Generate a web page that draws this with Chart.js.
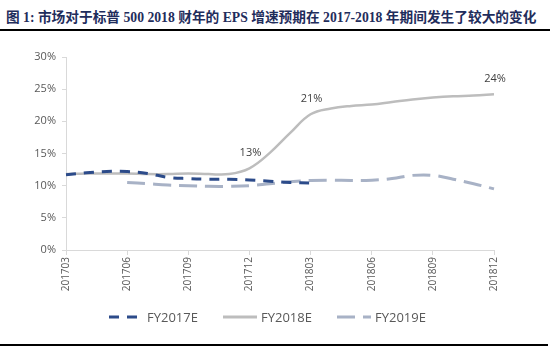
<!DOCTYPE html>
<html>
<head>
<meta charset="utf-8">
<script src="https://cdn.jsdelivr.net/npm/chart.js@4.4.1/dist/chart.umd.min.js"></script>
<style>
  html, body { margin: 0; padding: 0; background: #fff; }
  #wrap { position: relative; width: 550px; height: 350px; overflow: hidden; }
  #title {
    position: absolute; left: 6px; top: 6px; white-space: nowrap;
    font-family: "Liberation Serif", "Noto Sans CJK SC", serif;
    font-weight: bold; font-size: 13.7px; color: #1f2d5c;
  }
  #topRule { position: absolute; left: 0; top: 29px; width: 550px; height: 2px; background: #000; }
  #bottomRule { position: absolute; left: 0; top: 344px; width: 548px; height: 2px; background: #000; }
  #chartBox { position: absolute; left: 0; top: 0; width: 550px; height: 350px; }
</style>
</head>
<body>
<div id="wrap">
  <div id="title">图 1: 市场对于标普 500 2018 财年的 EPS 增速预期在 2017-2018 年期间发生了较大的变化</div>
  <div id="topRule"></div>
  <div id="chartBox"><canvas id="epsChart"></canvas></div>
  <div id="bottomRule"></div>
</div>
<script>
// monthly observations, ticks shown every quarter
const months = ['201703','201704','201705','201706','201707','201708','201709','201710','201711','201712',
                '201801','201802','201803','201804','201805','201806','201807','201808','201809','201810','201811','201812'];

const fy2017 = [11.7, 12.0, 12.2, 12.2, 11.9, 11.3, 11.1, 11.0, 11.0, 10.9,
                10.7, 10.5, 10.4, null, null, null, null, null, null, null, null, null];
const fy2018 = [11.8, 11.9, 11.9, 11.9, 11.8, 11.8, 11.9, 11.8, 11.8, 12.7,
                15.1, 18.2, 21.1, 22.0, 22.4, 22.6, 23.0, 23.4, 23.7, 23.9, 24.0, 24.2];
const fy2019 = [null, null, null, 10.5, 10.3, 10.1, 10.0, 9.9, 9.9, 10.0,
                10.3, 10.6, 10.8, 10.85, 10.8, 10.85, 11.1, 11.6, 11.6, 11.0, 10.3, 9.5];

// points on FY2018E that carry a value label
const labelledPoints = ['201712', '201803', '201812'];

const yTicks = [0, 5, 10, 15, 20, 25, 30];

const textColor = '#595959';
const axisColor = '#d9d9d9';

// draws value labels above selected FY2018E points
const valueLabels = {
    id: 'valueLabels',
    afterDatasetsDraw(chart) {
        const ctx = chart.ctx;
        const meta = chart.getDatasetMeta(1);
        ctx.save();
        ctx.font = '11px "Open Sans", sans-serif';
        ctx.fillStyle = '#404040';
        ctx.textAlign = 'center';
        ctx.textBaseline = 'middle';
        labelledPoints.forEach(m => {
            const i = months.indexOf(m);
            const pt = meta.data[i];
            ctx.fillText(Math.round(fy2018[i]) + '%', pt.x + 1, pt.y - 15);
        });
        ctx.restore();
    }
};

// legend drawn by hand so the dash patterns show like in the source
const lineLegend = {
    id: 'lineLegend',
    afterDraw(chart) {
        const ctx = chart.ctx;
        const y = 317;
        const starts = [109, 223, 337];
        ctx.save();
        ctx.font = '13px "Open Sans", sans-serif';
        ctx.textBaseline = 'middle';
        chart.data.datasets.forEach((ds, i) => {
            const x = starts[i];
            ctx.strokeStyle = ds.borderColor;
            ctx.lineWidth = 3;
            ctx.setLineDash(ds.borderDash || []);
            ctx.beginPath();
            ctx.moveTo(x, y);
            ctx.lineTo(x + 34, y);
            ctx.stroke();
            ctx.setLineDash([]);
            ctx.fillStyle = textColor;
            ctx.fillText(ds.label, x + 38, y + 1);
        });
        ctx.restore();
    }
};

const ctx = document.getElementById('epsChart').getContext('2d');
new Chart(ctx, {
    type: 'line',
    data: {
        labels: months,
        datasets: [
            {
                label: 'FY2017E',
                data: fy2017,
                borderColor: '#2c4b8a',
                borderWidth: 3,
                borderDash: [10, 8],
                pointRadius: 0,
                tension: 0.4
            },
            {
                label: 'FY2018E',
                data: fy2018,
                borderColor: '#bdbdbd',
                borderWidth: 2.5,
                pointRadius: 0,
                tension: 0.4
            },
            {
                label: 'FY2019E',
                data: fy2019,
                borderColor: '#a8b2c6',
                borderWidth: 3,
                borderDash: [18, 8],
                pointRadius: 0,
                tension: 0.4
            }
        ]
    },
    options: {
        responsive: true,
        maintainAspectRatio: false,
        animation: false,
        layout: { padding: { left: 0, right: 56, top: 57, bottom: 0 } },
        plugins: {
            legend: { display: false },
            tooltip: { enabled: false }
        },
        scales: {
            x: {
                offset: false,
                afterFit(scale) { scale.height = 100; },
                grid: { drawOnChartArea: false, drawTicks: true, tickLength: 5, color: axisColor },
                border: { color: axisColor, width: 1 },
                ticks: {
                    autoSkip: false,
                    maxRotation: 90,
                    minRotation: 90,
                    padding: 2,
                    color: textColor,
                    font: { family: '"Open Sans", sans-serif', size: 10 },
                    callback(v, i) { return i % 3 === 0 ? months[i] : null; }
                }
            },
            y: {
                min: 0,
                max: 30,
                afterFit(scale) { scale.width = 66; },
                afterBuildTicks(scale) { scale.ticks = yTicks.map(v => ({ value: v })); },
                grid: { drawOnChartArea: false, drawTicks: true, tickLength: 4, color: axisColor },
                border: { color: axisColor, width: 1 },
                ticks: {
                    padding: 6,
                    color: textColor,
                    font: { family: '"Open Sans", sans-serif', size: 11 },
                    callback(v) { return v + '%'; }
                }
            }
        }
    },
    plugins: [valueLabels, lineLegend]
});
</script>
</body>
</html>
